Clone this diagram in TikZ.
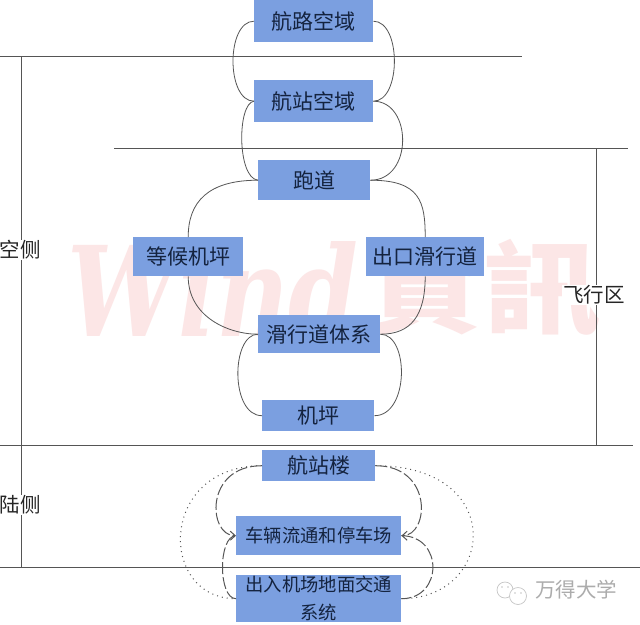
\documentclass[tikz,border=0pt]{standalone}
\usepackage{fontspec}
\setmainfont{Noto Sans CJK SC}
\newfontfamily\wmlatin{DejaVu Serif}
\newfontfamily\wmcjk{Noto Sans CJK TC}
\usetikzlibrary{arrows.meta}
\definecolor{boxfill}{HTML}{7B9FE0}
\definecolor{boxtext}{HTML}{14233F}
\definecolor{linegray}{HTML}{555555}
\definecolor{wm}{HTML}{FCE6E6}
\tikzset{
  area/.style={fill=boxfill,draw=none,inner sep=0pt,anchor=north west,align=center,text=boxtext,font=\fontsize{21}{25}\selectfont},
  smallarea/.style={area,font=\fontsize{18.3}{28}\selectfont},
  rulerline/.style={draw=linegray,line width=0.9pt},
  link/.style={draw=linegray,line width=0.8pt},
  dashlink/.style={draw=linegray,line width=1pt,dash pattern=on 12pt off 3pt},
  dotlink/.style={draw=linegray,line width=1pt,dash pattern=on 1pt off 4pt},
  barbtip/.style={-{Straight Barb[length=5pt,width=9pt]}},
  sidelabel/.style={text=black!85,font=\fontsize{20.5}{24}\selectfont,fill=white,inner sep=1pt},
  wmark/.style={text=wm,inner sep=0pt}
}
\newcommand{\areabox}[6]{\node[area,minimum width=#3pt,minimum height=#4pt] (#5) at (#1,#2) {#6};}
\begin{document}
\begin{tikzpicture}[x=1pt,y=-1pt]
\useasboundingbox (0,0) rectangle (640,624);
\fill[white] (0,0) rectangle (640,624);
% watermark
\node[wmark,anchor=center,font=\wmlatin\bfseries\itshape\fontsize{100}{100}\selectfont] (wmA) at (213,290) {\scalebox{1}[1.25]{Wind}};
\node[wmark,anchor=center,font=\wmcjk\bfseries\fontsize{118}{118}\selectfont] (wmB) at (483,288) {\scalebox{1}[.85]{資訊}};
% rules
\coordinate (ra) at (0,56); \coordinate (rb) at (522,56);
\coordinate (rc) at (114,148); \coordinate (rd) at (628,148);
\coordinate (re) at (0,445); \coordinate (rf) at (633,445);
\coordinate (rg) at (0,567); \coordinate (rh) at (640,567);
\coordinate (va) at (21,56); \coordinate (vb) at (21,567);
\coordinate (vc) at (596,148); \coordinate (vd) at (596,445);
\draw[rulerline] (ra)--(rb); \draw[rulerline] (rc)--(rd); \draw[rulerline] (re)--(rf); \draw[rulerline] (rg)--(rh);
\draw[rulerline] (va)--(vb); \draw[rulerline] (vc)--(vd);
% boxes
\areabox{254}{0}{119}{42}{hl}{航路空域}
\areabox{254}{80}{119}{42}{hz}{航站空域}
\areabox{258}{160}{112}{40}{pd}{跑道}
\areabox{133}{237}{110}{39}{dh}{等候机坪}
\areabox{366}{237}{118}{39}{ck}{出口滑行道}
\areabox{258}{315}{122}{38}{hx}{滑行道体系}
\areabox{262}{400}{112}{31}{jp}{机坪}
\areabox{262}{450}{113}{31}{hzl}{航站楼}
\node[smallarea,minimum width=165pt,minimum height=39pt] (cl) at (236,516) {车辆流通和停车场};
\node[smallarea,minimum width=165pt,minimum height=47pt] (cr) at (236,575) {出入机场地面交通\\系统};
% solid connectors
\draw[link] (hl.west) .. controls +(-28,0) and +(-28,0) .. (hz.west);
\draw[link] (hl.east) .. controls +(28,0) and +(28,0) .. (hz.east);
\draw[link] (hz.west) .. controls +(-17,2) and +(-21,-2) .. (pd.west);
\draw[link] (hz.east) .. controls +(39,0) and +(43,0) .. (pd.east);
\draw[link] (pd.west) .. controls +(-50,0) and +(0,-35) .. (dh.north);
\draw[link] (pd.east) .. controls +(50,0) and +(0,-35) .. (ck.north);
\draw[link] (dh.south) .. controls +(0,40) and +(-30,0) .. (hx.west);
\draw[link] (ck.south) .. controls +(0,40) and +(30,0) .. (hx.east);
\draw[link] (hx.west) .. controls +(-27,0) and +(-32,0) .. (jp.west);
\draw[link] (hx.east) .. controls +(29,0) and +(35,0) .. (jp.east);
% dotted connectors
\draw[dotlink] (hzl.west) .. controls +(-104,0) and +(-78,0) .. (cr.west);
\draw[dotlink] (hzl.east) .. controls +(132,0) and +(94,0) .. (cr.east);
% dashed connectors
\draw[dashlink,barbtip] (hzl.west) .. controls +(-58,0) and +(-28,0) .. (cl.west);
\draw[dashlink,barbtip] (hzl.east) .. controls +(58,0) and +(28,0) .. (cl.east);
\draw[dashlink] (cl.east) .. controls +(42,0) and +(42,0) .. (cr.east);
\draw[dashlink] (cr.west) .. controls +(-18,0) and +(-18,0) .. (cl.west);
% side labels
\node[sidelabel] (lk) at (20,250) {空侧};
\node[sidelabel] (ll) at (20,505) {陆侧};
\node[sidelabel] (lf) at (594,295) {飞行区};
% credit
\node[text=gray!65,inner sep=0pt,font=\fontsize{20.5}{24}\selectfont] (wx) at (576,590) {万得大学};
\draw[gray!45,line width=0.7pt,fill=white] (505,590) circle (8);
\draw[gray!45,line width=0.7pt,fill=white] (518,596) circle (8.5);
\fill[gray!45] (515,593) circle (0.9) (521,593) circle (0.9) (502,587) circle (0.9) (508,587) circle (0.9);
\end{tikzpicture}
\end{document}
